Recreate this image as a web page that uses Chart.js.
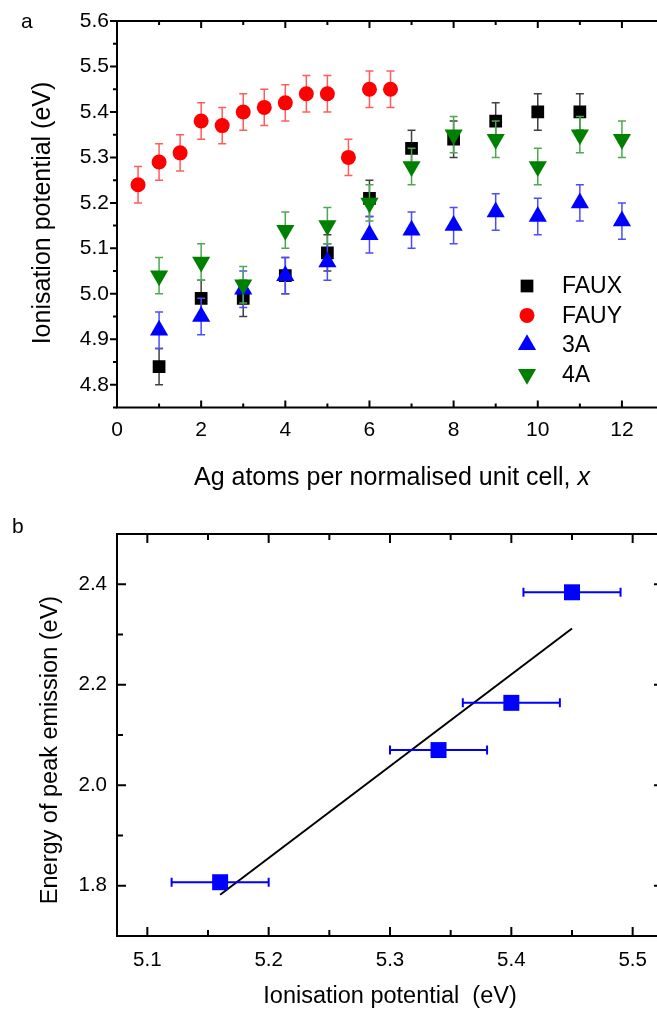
<!DOCTYPE html>
<html><head><meta charset="utf-8">
<script src="https://cdn.jsdelivr.net/npm/chart.js@4.4.1/dist/chart.umd.min.js"></script>
<style>
html,body{margin:0;padding:0;overflow:hidden;background:#fff;width:657px;height:1009px;}
#wa{position:absolute;left:0;top:0;width:680px;height:505px;}
#wb{position:absolute;left:0;top:505px;width:680px;height:504px;}
</style></head><body>
<div id="wa"><canvas id="ca"></canvas></div>
<div id="wb"><canvas id="cb"></canvas></div>
<script>
// ---------- data: panel a ----------
const xTicksA = [0, 2, 4, 6, 8, 10, 12];
const yTicksA = [4.8, 4.9, 5.0, 5.1, 5.2, 5.3, 5.4, 5.5, 5.6];
const fauxX = [1, 2, 3, 4, 5, 6, 7, 8, 9, 10, 11];
const fauxY = [4.84, 4.99, 4.99, 5.04, 5.09, 5.21, 5.32, 5.34, 5.38, 5.40, 5.40];
const fauxErr = [0.04, 0.04, 0.04, 0.04, 0.04, 0.04, 0.04, 0.04, 0.04, 0.04, 0.04];
const fauyX = [0.5, 1, 1.5, 2, 2.5, 3, 3.5, 4, 4.5, 5, 5.5, 6, 6.5];
const fauyY = [5.24, 5.29, 5.31, 5.38, 5.37, 5.40, 5.41, 5.42, 5.44, 5.44, 5.30, 5.45, 5.45];
const fauyErr = [0.04, 0.04, 0.04, 0.04, 0.04, 0.04, 0.04, 0.04, 0.04, 0.04, 0.04, 0.04, 0.04];
const a3X = [1, 2, 3, 4, 5, 6, 7, 8, 9, 10, 11, 12];
const a3Y = [4.92, 4.95, 5.01, 5.04, 5.07, 5.13, 5.14, 5.15, 5.18, 5.17, 5.20, 5.16];
const a3Err = [0.04, 0.04, 0.04, 0.04, 0.04, 0.04, 0.04, 0.04, 0.04, 0.04, 0.04, 0.04];
const a4X = [1, 2, 3, 4, 5, 6, 7, 8, 9, 10, 11, 12];
const a4Y = [5.04, 5.07, 5.02, 5.14, 5.15, 5.20, 5.28, 5.35, 5.34, 5.28, 5.35, 5.34];
const a4Err = [0.04, 0.04, 0.04, 0.04, 0.04, 0.04, 0.04, 0.04, 0.04, 0.04, 0.04, 0.04];
const seriesNames = ['FAUX', 'FAUY', '3A', '4A'];

// ---------- data: panel b ----------
const xTicksB = [5.1, 5.2, 5.3, 5.4, 5.5];
const yTicksB = [1.8, 2.0, 2.2, 2.4];
const ipX = [5.16, 5.34, 5.40, 5.45];
const emY = [1.807, 2.07, 2.164, 2.384];
const ipErr = [0.04, 0.04, 0.04, 0.04];
const fitX = [5.16, 5.45];
const fitY = [1.782, 2.312];

const FONT = '"Liberation Sans", Arial, Helvetica, sans-serif';
Chart.defaults.font.family = FONT;
Chart.defaults.color = '#000';

const pts = (xs, ys) => xs.map((v, i) => ({x: v, y: ys[i]}));

function tickSet(scale, minorStep) {
  const majors = scale.ticks.map(t => t.value);
  const out = majors.map(v => ({v, major: true}));
  const start = Math.ceil(scale.min / minorStep - 1e-6);
  for (let k = start; k * minorStep <= scale.max + 1e-9; k++) {
    const v = +(k * minorStep).toFixed(6);
    if (!majors.some(m => Math.abs(m - v) < minorStep / 10)) out.push({v, major: false});
  }
  return out;
}

const frameTicks = {
  id: 'frameTicks',
  afterDatasetsDraw(chart, args, o) {
    const {ctx, chartArea: a} = chart;
    const x = chart.scales.x, y = chart.scales.y;
    ctx.save();
    ctx.strokeStyle = '#000';
    ctx.lineWidth = o.lw;
    ctx.beginPath();
    for (const t of tickSet(x, o.xMinor)) {
      const px = x.getPixelForValue(t.v);
      const L = t.major ? o.xMaj : o.xMin;
      ctx.moveTo(px, a.bottom); ctx.lineTo(px, a.bottom - L);
      ctx.moveTo(px, a.top); ctx.lineTo(px, a.top + L);
    }
    const d = o.leftOut ? -1 : 1;
    for (const t of tickSet(y, o.yMinor)) {
      const py = y.getPixelForValue(t.v);
      const L = t.major ? o.yMaj : o.yMin;
      ctx.moveTo(a.left, py); ctx.lineTo(a.left + d * L, py);
      ctx.moveTo(a.right, py); ctx.lineTo(a.right - L, py);
    }
    ctx.stroke();
    ctx.strokeRect(a.left, a.top, a.right - a.left, a.bottom - a.top);
    ctx.restore();
  }
};

const errorBars = {
  id: 'errorBars',
  beforeDatasetDraw(chart, args) {
    const ds = chart.data.datasets[args.index];
    if (!ds.errY && !ds.errX) return;
    const ctx = chart.ctx, x = chart.scales.x, y = chart.scales.y;
    const c = ds.errCap / 2;
    ctx.save();
    ctx.strokeStyle = ds.errColor;
    ctx.lineWidth = ds.errWidth;
    ctx.beginPath();
    ds.data.forEach((p, i) => {
      const px = x.getPixelForValue(p.x), py = y.getPixelForValue(p.y);
      if (ds.errY) {
        const t = y.getPixelForValue(p.y + ds.errY[i]), b = y.getPixelForValue(p.y - ds.errY[i]);
        ctx.moveTo(px, t); ctx.lineTo(px, b);
        ctx.moveTo(px - c, t); ctx.lineTo(px + c, t);
        ctx.moveTo(px - c, b); ctx.lineTo(px + c, b);
      }
      if (ds.errX) {
        const l = x.getPixelForValue(p.x - ds.errX[i]), r = x.getPixelForValue(p.x + ds.errX[i]);
        ctx.moveTo(l, py); ctx.lineTo(r, py);
        ctx.moveTo(l, py - c); ctx.lineTo(l, py + c);
        ctx.moveTo(r, py - c); ctx.lineTo(r, py + c);
      }
    });
    ctx.stroke();
    ctx.restore();
  }
};

function marker(ctx, style, x, y, r, rot, color) {
  ctx.fillStyle = color;
  ctx.beginPath();
  if (style === 'rect') {
    const s = r * Math.SQRT1_2;
    ctx.rect(x - s, y - s, 2 * s, 2 * s);
  } else if (style === 'circle') {
    ctx.arc(x, y, r, 0, Math.PI * 2);
  } else {
    let ang = rot * Math.PI / 180;
    for (let k = 0; k < 3; k++) {
      const vx = x + Math.sin(ang) * r, vy = y - Math.cos(ang) * r;
      k ? ctx.lineTo(vx, vy) : ctx.moveTo(vx, vy);
      ang += 2 * Math.PI / 3;
    }
    ctx.closePath();
  }
  ctx.fill();
}

const legendBox = {
  id: 'legendBox',
  afterDraw(chart, args, o) {
    if (!o.show) return;
    const ctx = chart.ctx;
    ctx.save();
    ctx.font = o.size + 'px ' + FONT;
    ctx.textBaseline = 'middle';
    ctx.textAlign = 'left';
    chart.data.datasets.forEach((ds, i) => {
      const yy = o.y0 + i * o.dy;
      marker(ctx, ds.pointStyle, o.mx, yy, ds.pointRadius, ds.pointRotation || 0, ds.backgroundColor);
      ctx.fillStyle = '#000';
      ctx.fillText(ds.label, o.tx, yy + 1);
    });
    ctx.restore();
  }
};

const texts = {
  id: 'texts',
  afterDraw(chart, args, o) {
    const ctx = chart.ctx;
    ctx.save();
    ctx.fillStyle = '#000';
    ctx.textBaseline = 'alphabetic';
    for (const t of o.items) {
      ctx.save();
      ctx.translate(t.x, t.y);
      if (t.rot) ctx.rotate(t.rot * Math.PI / 180);
      const parts = t.parts;
      let total = 0;
      for (const p of parts) {
        ctx.font = (p.italic ? 'italic ' : '') + t.size + 'px ' + FONT;
        p.w = ctx.measureText(p.s).width;
        total += p.w;
      }
      let cx = t.align === 'left' ? 0 : -total / 2;
      ctx.textAlign = 'left';
      for (const p of parts) {
        ctx.font = (p.italic ? 'italic ' : '') + t.size + 'px ' + FONT;
        ctx.fillText(p.s, cx, 0);
        cx += p.w;
      }
      ctx.restore();
    }
    ctx.restore();
  }
};

function baseScale(min, max, ticksArr, fmt, size, pad, fitKey, fitVal) {
  return {
    type: 'linear', min, max,
    grid: {display: false, drawTicks: false},
    border: {display: false},
    afterBuildTicks: s => { s.ticks = ticksArr.map(v => ({value: v})); },
    afterFit: s => { s[fitKey] = fitVal; },
    ticks: {font: {size}, padding: pad, color: '#000', callback: fmt}
  };
}

// ---------- panel a ----------
new Chart(document.getElementById('ca'), {
  type: 'scatter',
  data: {
    datasets: [
      {label: seriesNames[0], data: pts(fauxX, fauxY), order: 4, pointStyle: 'rect', pointRadius: 9,
       backgroundColor: '#000000', borderColor: '#000000', borderWidth: 0,
       errY: fauxErr, errColor: '#404040', errWidth: 1.5, errCap: 8},
      {label: seriesNames[1], data: pts(fauyX, fauyY), order: 3, pointStyle: 'circle', pointRadius: 7.5,
       backgroundColor: '#ff0000', borderColor: '#ff0000', borderWidth: 0,
       errY: fauyErr, errColor: '#ff5c5c', errWidth: 1.5, errCap: 8},
      {label: seriesNames[2], data: pts(a3X, a3Y), order: 2, pointStyle: 'triangle', pointRadius: 10.5,
       backgroundColor: '#0000ff', borderColor: '#0000ff', borderWidth: 0,
       errY: a3Err, errColor: '#4c4cff', errWidth: 1.5, errCap: 8},
      {label: seriesNames[3], data: pts(a4X, a4Y), order: 1, pointStyle: 'triangle', pointRotation: 180, pointRadius: 10.5,
       backgroundColor: '#008000', borderColor: '#008000', borderWidth: 0,
       errY: a4Err, errColor: '#4ea84e', errWidth: 1.5, errCap: 8}
    ]
  },
  options: {
    responsive: true, maintainAspectRatio: false, animation: false, devicePixelRatio: 1,
    layout: {padding: {top: 21, right: 16, left: 0, bottom: 0}},
    plugins: {
      legend: {display: false}, tooltip: {enabled: false},
      frameTicks: {lw: 2, xMinor: 1, yMinor: 0.05, xMaj: 7, xMin: 4, yMaj: 7, yMin: 4, leftOut: true},
      legendBox: {show: true, mx: 527, tx: 562, y0: 286, dy: 29.4, size: 23},
      texts: {items: [
        {parts: [{s: 'a'}], x: 21, y: 28, size: 21, align: 'left'},
        {parts: [{s: 'Ionisation potential (eV)'}], x: 50, y: 213, size: 25, rot: -90},
        {parts: [{s: 'Ag atoms per normalised unit cell, '}, {s: 'x', italic: true}], x: 392, y: 485, size: 25}
      ]}
    },
    scales: {
      x: baseScale(0, 13, xTicksA, v => String(v), 21, 10, 'height', 97.5),
      y: baseScale(4.75, 5.6, yTicksA, v => v.toFixed(1), 21, 8, 'width', 117)
    }
  },
  plugins: [errorBars, frameTicks, legendBox, texts]
});

// ---------- panel b ----------
new Chart(document.getElementById('cb'), {
  type: 'scatter',
  data: {
    datasets: [
      {label: 'fit', data: pts(fitX, fitY), showLine: true, pointRadius: 0, borderColor: '#000', borderWidth: 2, order: 2},
      {label: 'data', data: pts(ipX, emY), order: 1, pointStyle: 'rect', pointRadius: 11.3,
       backgroundColor: '#0000ff', borderColor: '#0000ff', borderWidth: 0,
       errX: ipErr, errColor: '#0000ff', errWidth: 2, errCap: 9}
    ]
  },
  options: {
    responsive: true, maintainAspectRatio: false, animation: false, devicePixelRatio: 1,
    layout: {padding: {top: 29, right: 17, left: 0, bottom: 0}},
    plugins: {
      legend: {display: false}, tooltip: {enabled: false},
      frameTicks: {lw: 2, xMinor: 0.05, yMinor: 0.1, xMaj: 9, xMin: 6, yMaj: 9, yMin: 6, leftOut: false},
      legendBox: {show: false},
      texts: {items: [
        {parts: [{s: 'b'}], x: 12, y: 28, size: 21, align: 'left'},
        {parts: [{s: 'Energy of peak emission (eV)'}], x: 57, y: 245, size: 23.5, rot: -90},
        {parts: [{s: 'Ionisation potential  (eV)'}], x: 390, y: 498, size: 23.5}
      ]}
    },
    scales: {
      x: baseScale(5.075, 5.525, xTicksB, v => v.toFixed(1), 20.5, 12, 'height', 73),
      y: baseScale(1.7, 2.5, yTicksB, v => v.toFixed(1), 20.5, 10, 'width', 117)
    }
  },
  plugins: [errorBars, frameTicks, legendBox, texts]
});
</script>
</body></html>
